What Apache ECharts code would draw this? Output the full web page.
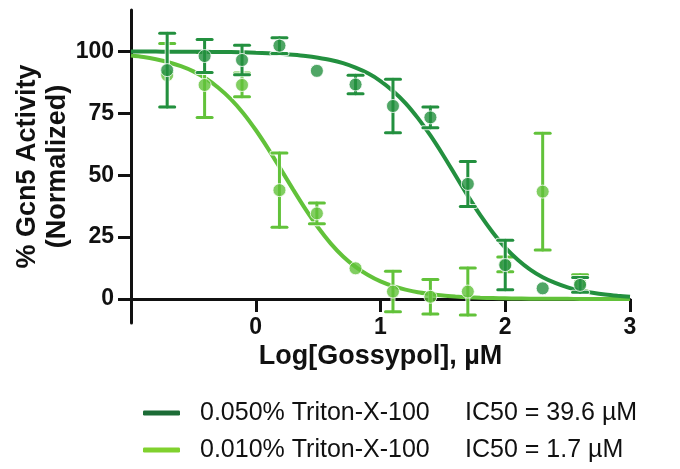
<!DOCTYPE html>
<html>
<head>
<meta charset="utf-8">
<script src="https://cdn.jsdelivr.net/npm/echarts@6/dist/echarts.min.js"></script>
<style>html,body{margin:0;padding:0;background:#fff}#c{width:680px;height:469px}</style>
</head>
<body>
<div id="c"></div>
<script>
// ---- data ----
const seriesNames = ['0.050% Triton-X-100', '0.010% Triton-X-100'];
const ic50Labels = ['IC50 = 39.6 µM', 'IC50 = 1.7 µM'];
const xTicks = [0, 1, 2, 3];
const yTicks = [0, 25, 50, 75, 100];

const logConc = [-0.71, -0.41, -0.11, 0.19, 0.49, 0.80, 1.10, 1.40, 1.70, 2.00, 2.30, 2.60];
const darkMean = [92.5, 98.2, 96.6, 102.4, 92.2, 86.7, 78.0, 73.4, 46.5, 13.7, 4.3, 5.7];
const darkErr  = [14.9, 6.7, 6.0, 3.2, 0, 3.7, 10.8, 4.2, 9.1, 10.0, 0, 3.0];
const lightMean = [90.5, 86.5, 86.5, 44.0, 34.6, 12.4, 3.0, 0.9, 3.0, 14.0, 43.4, 6.5];
const lightErr  = [12.8, 13.1, 4.8, 15.0, 4.2, 0, 8.2, 7.0, 9.5, 3.0, 23.6, 3.3];

// fitted curves, every 0.1 log unit
const curveX = [-1.0, -0.9, -0.8, -0.7, -0.6, -0.5, -0.4, -0.3, -0.2, -0.1,
                 0.0, 0.1, 0.2, 0.3, 0.4, 0.5, 0.6, 0.7, 0.8, 0.9,
                 1.0, 1.1, 1.2, 1.3, 1.4, 1.5, 1.6, 1.7, 1.8, 1.9,
                 2.0, 2.1, 2.2, 2.3, 2.4, 2.5, 2.6, 2.7, 2.8, 2.9, 3.0];
const darkCurve = [100.0, 100.0, 100.0, 99.9, 99.9, 99.9, 99.9, 99.8, 99.8, 99.7,
                   99.5, 99.3, 99.1, 98.7, 98.2, 97.5, 96.6, 95.3, 93.5, 91.2,
                   88.1, 84.1, 79.2, 73.1, 66.1, 58.3, 50.0, 41.7, 33.9, 26.9,
                   20.8, 15.9, 11.9, 8.8, 6.5, 4.7, 3.4, 2.5, 1.8, 1.3, 0.9];
const lightCurve = [98.4, 97.8, 96.9, 95.7, 94.1, 92.0, 89.1, 85.4, 80.8, 75.1,
                    68.3, 60.7, 52.5, 44.2, 36.2, 28.9, 22.5, 17.2, 13.0, 9.7,
                    7.1, 5.2, 3.8, 2.7, 2.0, 1.4, 1.0, 0.7, 0.5, 0.4,
                    0.3, 0.2, 0.1, 0.1, 0.1, 0.1, 0.0, 0.0, 0.0, 0.0, 0.0];

// ---- styles ----
const darkColor = '#23903f';
const lightColor = '#62c23a';
const darkLegend = '#1c6c36';
const lightLegend = '#80d12e';
const FONT = 'Liberation Sans, Arial, sans-serif';

function pairs(xs, ys) { return xs.map((x, i) => [x, ys[i]]); }
function triples(xs, ys, es) { return xs.map((x, i) => [x, ys[i], es[i]]); }

function errRender(color) {
  return function (params, api) {
    const x = api.value(0), y = api.value(1), e = api.value(2);
    if (!e) return null;
    const t = api.coord([x, y + e]);
    const b = api.coord([x, y - e]);
    const hw = 7.5;
    const halo = { stroke: '#fff', lineWidth: 5, lineCap: 'round', opacity: 0.8 };
    const st = { stroke: color, lineWidth: 3, lineCap: 'round' };
    const segs = [
      [t[0], t[1], b[0], b[1]],
      [t[0] - hw, t[1], t[0] + hw, t[1]],
      [b[0] - hw, b[1], b[0] + hw, b[1]]
    ];
    const children = [];
    segs.forEach(s => children.push({ type: 'line', shape: { x1: s[0], y1: s[1], x2: s[2], y2: s[3] }, style: halo }));
    segs.forEach(s => children.push({ type: 'line', shape: { x1: s[0], y1: s[1], x2: s[2], y2: s[3] }, style: st }));
    return { type: 'group', children };
  };
}

function group(name, color, curve, mean, err, z) {
  return [
    { name, type: 'line', data: pairs(curveX, curve), smooth: 0.3, symbol: 'none',
      lineStyle: { color, width: 4 }, itemStyle: { color }, z: z, animation: false },
    { name, type: 'custom', renderItem: errRender(color), data: triples(logConc, mean, err),
      encode: { x: 0, y: 1 }, clip: false, z: z + 1, animation: false },
    { name, type: 'scatter', data: pairs(logConc, mean), symbol: 'circle', symbolSize: 13,
      itemStyle: { color, borderColor: '#fff', borderWidth: 1 }, z: z + 2, animation: false }
  ];
}

const chart = echarts.init(document.getElementById('c'), null, { renderer: 'canvas' });
chart.setOption({
  animation: false,
  backgroundColor: '#fff',
  grid: { left: 131, right: 50, top: 10, bottom: 146, containLabel: false, outerBoundsMode: 'none' },
  xAxis: {
    type: 'value', min: -1, max: 3, offset: -24,
    name: 'Log[Gossypol], µM', nameLocation: 'middle', nameGap: 44, nameMoveOverlap: false,
    nameTextStyle: { fontSize: 27, fontWeight: 'bold', color: '#111', fontFamily: FONT },
    axisLine: { onZero: false, lineStyle: { color: '#111', width: 3 } },
    axisTick: { show: true, length: 13, lineStyle: { color: '#111', width: 3 }, customValues: xTicks },
    axisLabel: { customValues: xTicks, margin: 17, fontSize: 23, fontWeight: 'bold', color: '#111', fontFamily: FONT },
    splitLine: { show: false }
  },
  yAxis: {
    type: 'value', min: -9.7, max: 116.8,
    name: '% Gcn5 Activity\n(Normalized)', nameLocation: 'middle', nameGap: 58, nameRotate: 90,
    nameMoveOverlap: false,
    nameTextStyle: { fontSize: 27, fontWeight: 'bold', color: '#111', fontFamily: FONT, lineHeight: 30 },
    axisLine: { onZero: false, lineStyle: { color: '#111', width: 3 } },
    axisTick: { show: true, length: 13, lineStyle: { color: '#111', width: 3 }, customValues: yTicks },
    axisLabel: { customValues: yTicks, margin: 17, fontSize: 23, fontWeight: 'bold', color: '#111', fontFamily: FONT },
    splitLine: { show: false }
  },
  legend: {
    orient: 'vertical', left: 138, top: 394, itemWidth: 37, itemHeight: 5, itemGap: 9,
    icon: 'roundRect', selectedMode: false,
    data: [
      { name: seriesNames[0], itemStyle: { color: darkLegend } },
      { name: seriesNames[1], itemStyle: { color: lightLegend } }
    ],
    formatter: function (n) { return '{a|' + n + '}{b|' + ic50Labels[seriesNames.indexOf(n)] + '}'; },
    textStyle: {
      color: '#111', fontSize: 25, fontFamily: FONT, lineHeight: 28,
      rich: {
        a: { width: 265, fontSize: 25, fontFamily: FONT, color: '#111', padding: [0, 0, 0, 15] },
        b: { fontSize: 25, fontFamily: FONT, color: '#111' }
      }
    }
  },
  series: [].concat(
    group(seriesNames[1], lightColor, lightCurve, lightMean, lightErr, 2),
    group(seriesNames[0], darkColor, darkCurve, darkMean, darkErr, 6)
  )
});
</script>
</body>
</html>
